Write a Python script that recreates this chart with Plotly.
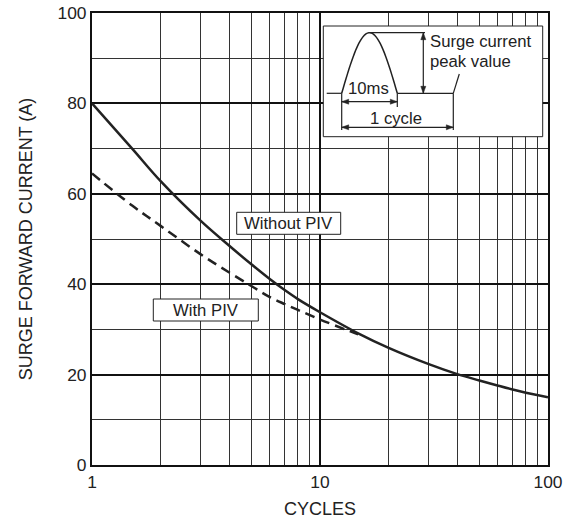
import numpy as np
import plotly.graph_objects as go

# ---- data ----
cycles_without = [1, 1.5, 2, 3, 4, 5, 6, 7, 8, 10, 15, 20, 30, 40, 50, 60, 70, 80, 100]
current_without = [80, 70.0, 62.8, 54.0, 48.5, 44.4, 41.2, 38.7, 36.7, 33.8, 28.9, 25.9, 22.3, 20.1, 18.7, 17.6, 16.7, 16.0, 15.0]

cycles_with = [1, 1.5, 2, 3, 4, 5, 6, 7, 8, 10, 14.7]
current_with = [64.5, 57.4, 52.9, 46.6, 42.6, 39.6, 37.2, 35.6, 34.3, 32.2, 28.9]

x_ticks = [1, 10, 100]
x_minor = [2, 3, 4, 5, 6, 7, 8, 9, 20, 30, 40, 50, 60, 70, 80, 90]

W, H = 563, 519
L, R, T, B = 92, 548, 13, 465  # plot area in px

def X(px):
    return (px - L) / (R - L)

def Y(py):
    return (B - py) / (B - T)

FONT = "Liberation Sans, Arial, sans-serif"
INK = "#222"
LBL = 16.7

fig = go.Figure()
fig.add_trace(go.Scatter(x=cycles_without, y=current_without, mode="lines",
                         line=dict(color=INK, width=2.5, shape="spline", smoothing=1.0),
                         showlegend=False, hoverinfo="skip"))
fig.add_trace(go.Scatter(x=cycles_with, y=current_with, mode="lines",
                         line=dict(color=INK, width=2.5, dash="10px,6px", shape="spline", smoothing=1.0),
                         showlegend=False, hoverinfo="skip"))

shapes = []
annotations = []

def line(x0, y0, x1, y1, w=1.2):
    shapes.append(dict(type="line", xref="paper", yref="paper",
                       x0=X(x0), y0=Y(y0), x1=X(x1), y1=Y(y1),
                       line=dict(color=INK, width=w)))

def head(tx, ty, dx, dy, ln=7, hw=2.5):
    bx, by = tx - dx * ln, ty - dy * ln
    px_, py_ = -dy, dx
    pts = [(tx, ty), (bx + px_ * hw, by + py_ * hw), (bx - px_ * hw, by - py_ * hw)]
    path = "M " + " L ".join(f"{X(a):.5f},{Y(b):.5f}" for a, b in pts) + " Z"
    shapes.append(dict(type="path", xref="paper", yref="paper", path=path,
                       fillcolor=INK, line=dict(color=INK, width=0.5)))

def box(x0, y0, x1, y1):
    shapes.append(dict(type="rect", xref="paper", yref="paper",
                       x0=X(x0), y0=Y(y1), x1=X(x1), y1=Y(y0),
                       fillcolor="white", line=dict(color=INK, width=1), layer="above"))

def text(s, x, y, anchor="center"):
    annotations.append(dict(text=s, xref="paper", yref="paper", x=X(x), y=Y(y),
                            xanchor=anchor, yanchor="middle", showarrow=False,
                            font=dict(family=FONT, size=LBL, color=INK)))

# label boxes
box(236.7, 212.3, 340.7, 234.3)
text("Without PIV", 288.7, 223.5)
box(153.3, 299, 258.3, 321)
text("With PIV", 205.8, 310.2)

# inset
box(323.3, 26, 542.7, 136.7)
base = 93.3
line(326.7, base, 341.7, base)
t = np.linspace(0, 1, 40)
sx = 341.7 + (397.3 - 341.7) * t
sy = base - (base - 32.7) * np.sin(np.pi * t)
path = "M " + " L ".join(f"{X(a):.5f},{Y(b):.5f}" for a, b in zip(sx, sy))
shapes.append(dict(type="path", xref="paper", yref="paper", path=path,
                   line=dict(color=INK, width=1.5)))
line(397.3, base, 453.3, base)
line(453.3, base, 459.3, 74)
line(370, 32.7, 425, 32.7)
line(423.3, 32.7, 423.3, 93.3)
head(423.3, 32.7, 0, -1)
head(423.3, 93.3, 0, 1)
line(341.7, base, 341.7, 130)
line(397.3, base, 397.3, 107)
line(453.3, base, 453.3, 130)
line(341.7, 101.7, 397.3, 101.7)
head(341.7, 101.7, -1, 0)
head(397.3, 101.7, 1, 0)
line(341.7, 127.3, 453.3, 127.3)
head(341.7, 127.3, -1, 0)
head(453.3, 127.3, 1, 0)
text("Surge current", 427.5, 41.7, "left")
text("peak value", 427.5, 61, "left")
text("10ms", 368.5, 88.5)
text("1 cycle", 396, 118.5)

fig.update_layout(
    width=W, height=H,
    margin=dict(l=L, r=W - R, t=T, b=H - B, pad=0),
    paper_bgcolor="white", plot_bgcolor="white",
    font=dict(family=FONT, size=17.4, color=INK),
    shapes=shapes, annotations=annotations,
    xaxis=dict(type="log", range=[0, 2], tickvals=x_ticks, ticktext=[str(v) for v in x_ticks],
               showgrid=True, gridcolor="#111", gridwidth=2,
               minor=dict(tickvals=x_minor, showgrid=True, gridcolor="#333", gridwidth=1, ticks=""),
               showline=True, linecolor="#111", linewidth=2, mirror=True,
               ticks="", zeroline=False, automargin=False,
               tickfont=dict(size=17.4),
               title=dict(text="CYCLES", standoff=12, font=dict(size=18))),
    yaxis=dict(range=[0, 100], dtick=20, showgrid=True, gridcolor="#111", gridwidth=2,
               minor=dict(dtick=10, showgrid=True, gridcolor="#333", gridwidth=1, ticks=""),
               showline=True, linecolor="#111", linewidth=2, mirror=True,
               ticks="", zeroline=False, automargin=False,
               tickfont=dict(size=17.4),
               title=dict(text="SURGE FORWARD CURRENT (A)", standoff=20, font=dict(size=18))),
)

fig.write_html("out.html", config={"displayModeBar": False},
               post_script="document.body.style.margin='0px';document.body.style.overflow='hidden';")
